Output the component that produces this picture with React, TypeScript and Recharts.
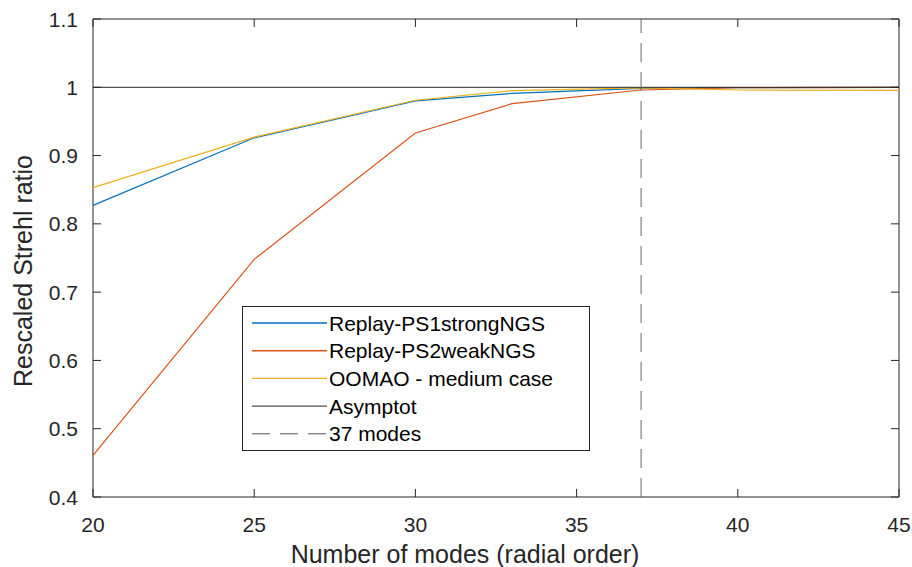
import React from 'react';
import { LineChart, Line, XAxis, YAxis, ReferenceLine, ReferenceArea, Legend, Label } from 'recharts';

const modes = [20, 25, 30, 33, 37, 40, 45];
const ps1Strong = [0.827, 0.926, 0.980, 0.991, 0.9985, 0.9995, 1.0];
const ps2Weak = [0.461, 0.748, 0.933, 0.976, 0.996, 0.9995, 1.0];
const oomaoMedium = [0.853, 0.927, 0.981, 0.995, 0.999, 0.996, 0.9955];
const asymptote = 1;
const cutoffModes = 37;

const xTicks = [20, 25, 30, 35, 40, 45];
const yTicks = [0.4, 0.5, 0.6, 0.7, 0.8, 0.9, 1, 1.1];

const seriesNames = ['Replay-PS1strongNGS', 'Replay-PS2weakNGS', 'OOMAO - medium case', 'Asymptot', '37 modes'];
const seriesColors = ['#0072BD', '#D95319', '#EDB120', '#262626', '#555555'];

const data = modes.map((m, i) => ({
  mode: m,
  ps1: ps1Strong[i],
  ps2: ps2Weak[i],
  oomao: oomaoMedium[i],
}));

const W = 912;
const H = 567;
const LEFT = 93;
const RIGHT = 899;
const TOP = 19;
const BOTTOM = 497;
const FONT = 'Liberation Sans, Arial, Helvetica, sans-serif';
const AXIS = '#262626';
const TICKLEN = 8;

const YTick = (props: any) => {
  const { y, payload } = props;
  return (
    <g>
      <text x={LEFT - 15} y={y + 7.5} textAnchor="end" fontFamily={FONT} fontSize={21} fill={AXIS}>
        {String(payload.value)}
      </text>
      <line x1={LEFT} x2={LEFT + TICKLEN} y1={y} y2={y} stroke={AXIS} strokeWidth={1} />
      <line x1={RIGHT - TICKLEN} x2={RIGHT} y1={y} y2={y} stroke={AXIS} strokeWidth={1} />
    </g>
  );
};

const XTick = (props: any) => {
  const { x, payload } = props;
  return (
    <g>
      <text x={x} y={531.5} textAnchor="middle" fontFamily={FONT} fontSize={21} fill={AXIS}>
        {String(payload.value)}
      </text>
      <line x1={x} x2={x} y1={BOTTOM} y2={BOTTOM - TICKLEN} stroke={AXIS} strokeWidth={1} />
      <line x1={x} x2={x} y1={TOP} y2={TOP + TICKLEN} stroke={AXIS} strokeWidth={1} />
    </g>
  );
};

const renderLegend = () => {
  const rowY = (i: number) => 17 + i * 27.7;
  return (
    <div
      style={{
        width: 348,
        height: 145,
        boxSizing: 'border-box',
        border: '1px solid #262626',
        background: '#ffffff',
        position: 'relative',
      }}
    >
      <svg width={346} height={143} style={{ position: 'absolute', left: 0, top: 0 }}>
        {seriesNames.map((name, i) => (
          <g key={name}>
            <line
              x1={9}
              x2={84}
              y1={rowY(i) - 1}
              y2={rowY(i) - 1}
              stroke={seriesColors[i]}
              strokeWidth={i < 3 ? 1.4 : 1}
              strokeDasharray={i === 4 ? '18 10' : undefined}
            />
            <text x={86} y={rowY(i) + 6.5} fontFamily={FONT} fontSize={21} fill="#000">
              {name}
            </text>
          </g>
        ))}
      </svg>
    </div>
  );
};

export default function App() {
  return (
    <div style={{ width: W, height: H }}>
      <style>{`html, body { margin: 0; padding: 0; overflow: hidden; background: #fff; }`}</style>
      <LineChart
        width={W}
        height={H}
        data={data}
        margin={{ top: TOP, right: W - RIGHT, left: LEFT - 60, bottom: H - BOTTOM - 50 }}
        style={{ background: '#fff' }}
      >
        <XAxis
          dataKey="mode"
          type="number"
          domain={[20, 45]}
          ticks={xTicks}
          interval={0}
          height={50}
          axisLine={false}
          tickLine={false}
          tick={<XTick />}
        >
          <Label
            content={() => (
              <text x={465} y={563} textAnchor="middle" fontFamily={FONT} fontSize={25} fill={AXIS}>
                Number of modes (radial order)
              </text>
            )}
          />
        </XAxis>
        <YAxis
          type="number"
          domain={[0.4, 1.1]}
          ticks={yTicks}
          interval={0}
          width={60}
          axisLine={false}
          tickLine={false}
          tick={<YTick />}
        >
          <Label
            content={() => (
              <text
                x={0}
                y={0}
                transform={`translate(32, 271) rotate(-90)`}
                textAnchor="middle"
                fontFamily={FONT}
                fontSize={25}
                fill={AXIS}
              >
                Rescaled Strehl ratio
              </text>
            )}
          />
        </YAxis>
        <ReferenceArea x1={20} x2={45} y1={0.4} y2={1.1} fill="none" stroke={AXIS} strokeWidth={1} fillOpacity={0} />
        <Line type="linear" dataKey="ps1" stroke={seriesColors[0]} strokeWidth={1.2} dot={false} isAnimationActive={false} />
        <Line type="linear" dataKey="ps2" stroke={seriesColors[1]} strokeWidth={1.2} dot={false} isAnimationActive={false} />
        <Line type="linear" dataKey="oomao" stroke={seriesColors[2]} strokeWidth={1.2} dot={false} isAnimationActive={false} />
        <ReferenceLine y={asymptote} stroke={seriesColors[3]} strokeWidth={1} />
        <ReferenceLine x={cutoffModes} stroke="#666666" strokeWidth={1} strokeDasharray="19 10" />
        <Legend
          content={renderLegend}
          layout="vertical"
          align="center"
          verticalAlign="middle"
          wrapperStyle={{ left: 242, top: 306, width: 348, height: 145 }}
        />
      </LineChart>
    </div>
  );
}
